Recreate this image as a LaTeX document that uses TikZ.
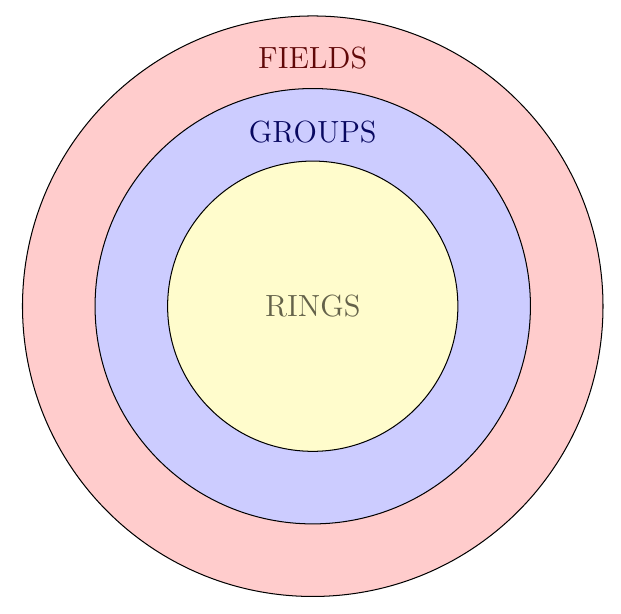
\documentclass[tikz,border=0pt]{standalone}
\definecolor{fieldtext}{RGB}{96,8,8}
\definecolor{grouptext}{RGB}{8,8,96}
\definecolor{ringtext}{RGB}{100,98,74}

\begin{document}
\begin{tikzpicture}[scale=1,
        lbl/.style={font=\large}]
            \useasboundingbox (-4.31,-4.234) rectangle (4.248,4.22);

            \coordinate (O) at (0,0);

            \draw[fill=red!20] (O) circle (4);
            \draw[fill=blue!20] (O) circle (3);
            \draw[fill=yellow!20] (O) circle (2);

            \node[lbl, text=fieldtext] (fields) at (0,3.42) {FIELDS};
            \node[lbl, text=grouptext] (groups) at (0,2.40) {GROUPS};
            \node[lbl, text=ringtext] (rings) at (O) {RINGS};
        \end{tikzpicture}
\end{document}
